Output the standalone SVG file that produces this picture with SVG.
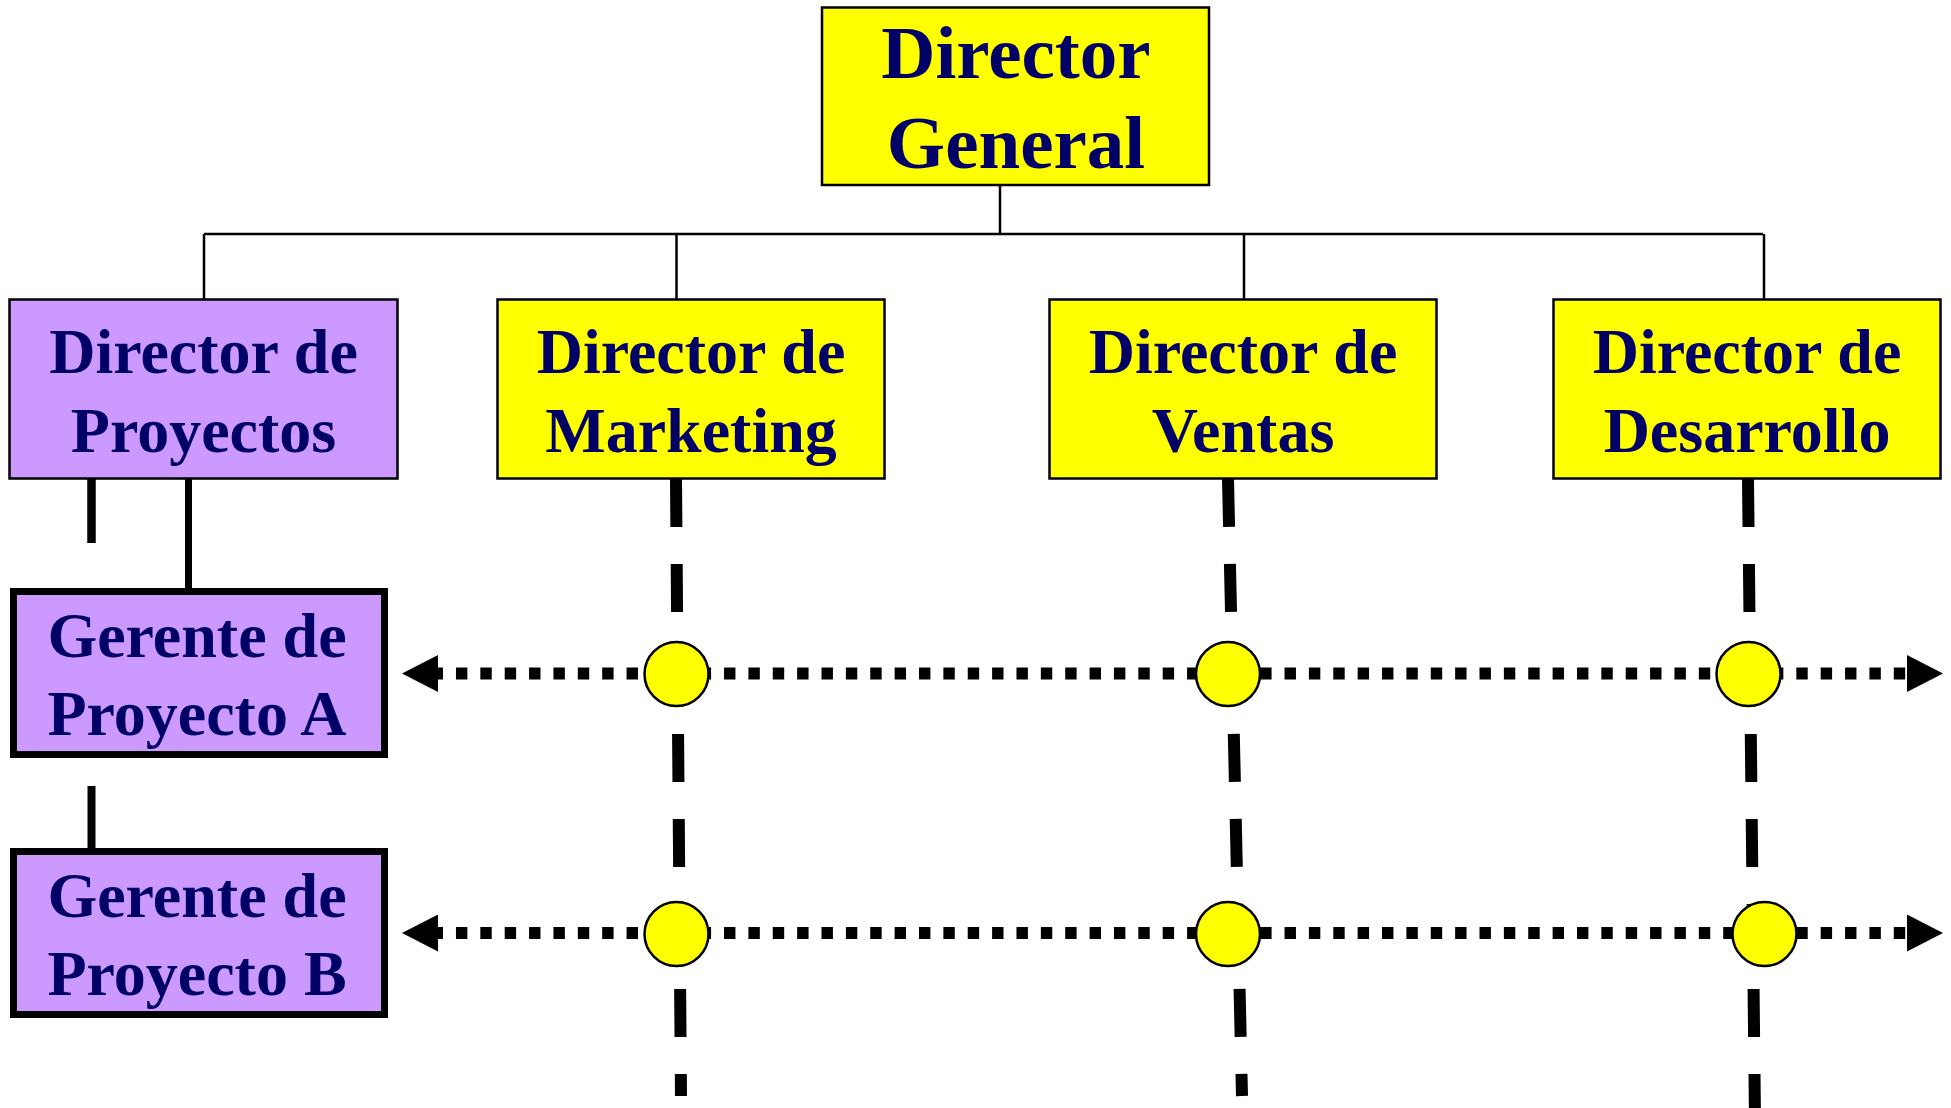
<svg xmlns="http://www.w3.org/2000/svg" width="1951" height="1108" viewBox="0 0 1951 1108">
  <style>
    .lbl { font-family: "Liberation Serif", "Times New Roman", serif; font-weight: bold; fill: #000066; text-anchor: middle; }
    .big { font-size: 75px; }
    .mid { font-size: 64px; }
    .yel { fill: #FFFF00; stroke: #000; stroke-width: 2.5; }
    .pur { fill: #CC99FF; stroke: #000; stroke-width: 2.5; }
    .purThick { fill: #CC99FF; stroke: #000; stroke-width: 7; }
    .thin { stroke: #000; stroke-width: 2.5; fill: none; }
    .solid { stroke: #000; fill: none; }
    .dash { stroke: #000; stroke-width: 12; fill: none; stroke-dasharray: 48 37; }
    .dots { stroke: #000; stroke-width: 12; fill: none; stroke-dasharray: 11.4 12.97; stroke-dashoffset: 6.4; }
    .node { fill: #FFFF00; stroke: #000; stroke-width: 2.5; }
  </style>
  <defs>
    <marker id="arrow" viewBox="0 0 36 37" refX="0" refY="18.5" markerWidth="36" markerHeight="37" markerUnits="userSpaceOnUse" orient="auto-start-reverse">
      <path d="M0,0 L36,18.5 L0,37 Z" fill="#000"/>
    </marker>
  </defs>

  <!-- connectors -->
  <g id="connectors">
    <!-- hierarchy lines from the general director -->
    <line class="thin" x1="1000" y1="185" x2="1000" y2="234"/>
    <line class="thin" x1="204" y1="234" x2="1763" y2="234"/>
    <line class="thin" x1="204" y1="234" x2="204" y2="299"/>
    <line class="thin" x1="676.5" y1="234" x2="676.5" y2="299"/>
    <line class="thin" x1="1244" y1="234" x2="1244" y2="299"/>
    <line class="thin" x1="1764" y1="234" x2="1764" y2="299"/>

    <!-- project line links -->
    <line class="solid" stroke-width="8.5" x1="91.5" y1="479" x2="91.5" y2="543"/>
    <line class="solid" stroke-width="7" x1="188.5" y1="479" x2="188.5" y2="588"/>
    <line class="solid" stroke-width="8" x1="91.5" y1="786" x2="91.5" y2="848"/>

    <!-- functional dashed columns -->
    <line class="dash" x1="676" y1="479" x2="681" y2="1096"/>
    <line class="dash" x1="1228" y1="479" x2="1242" y2="1096"/>
    <line class="dash" x1="1748" y1="479" x2="1755" y2="1120"/>

    <!-- project dotted rows -->
    <line class="dots" x1="438" y1="673.5" x2="1907" y2="673.5" marker-start="url(#arrow)" marker-end="url(#arrow)"/>
    <line class="dots" x1="438" y1="933" x2="1907" y2="933" marker-start="url(#arrow)" marker-end="url(#arrow)"/>

    <!-- intersection points -->
    <circle class="node" cx="676.5" cy="674" r="32"/>
    <circle class="node" cx="1228" cy="674" r="32"/>
    <circle class="node" cx="1748.5" cy="674" r="32"/>
    <circle class="node" cx="676.5" cy="934" r="32"/>
    <circle class="node" cx="1228" cy="934" r="32"/>
    <circle class="node" cx="1764.5" cy="934" r="32"/>
  </g>

  <g id="director-general">
    <rect class="yel" x="822" y="7.5" width="387" height="177.5"/>
    <text class="lbl big" x="1016" y="78">Director</text>
    <text class="lbl big" x="1016" y="168">General</text>
  </g>

  <g id="director-proyectos">
    <rect class="pur" x="9.5" y="299.5" width="388" height="179"/>
    <text class="lbl mid" x="203.5" y="373">Director de</text>
    <text class="lbl mid" x="203.5" y="452">Proyectos</text>
  </g>

  <g id="director-marketing">
    <rect class="yel" x="497.5" y="299.5" width="387" height="179"/>
    <text class="lbl mid" x="691" y="373">Director de</text>
    <text class="lbl mid" x="691" y="452">Marketing</text>
  </g>

  <g id="director-ventas">
    <rect class="yel" x="1049.5" y="299.5" width="387" height="179"/>
    <text class="lbl mid" x="1243" y="373">Director de</text>
    <text class="lbl mid" x="1243" y="452">Ventas</text>
  </g>

  <g id="director-desarrollo">
    <rect class="yel" x="1553.5" y="299.5" width="387" height="179"/>
    <text class="lbl mid" x="1747" y="373">Director de</text>
    <text class="lbl mid" x="1747" y="452">Desarrollo</text>
  </g>

  <g id="gerente-a">
    <rect class="purThick" x="13.5" y="591.5" width="371" height="163"/>
    <text class="lbl mid" x="197" y="657">Gerente de</text>
    <text class="lbl mid" x="197" y="735">Proyecto A</text>
  </g>

  <g id="gerente-b">
    <rect class="purThick" x="13.5" y="851.5" width="371" height="163"/>
    <text class="lbl mid" x="197" y="917">Gerente de</text>
    <text class="lbl mid" x="197" y="995">Proyecto B</text>
  </g>
</svg>
